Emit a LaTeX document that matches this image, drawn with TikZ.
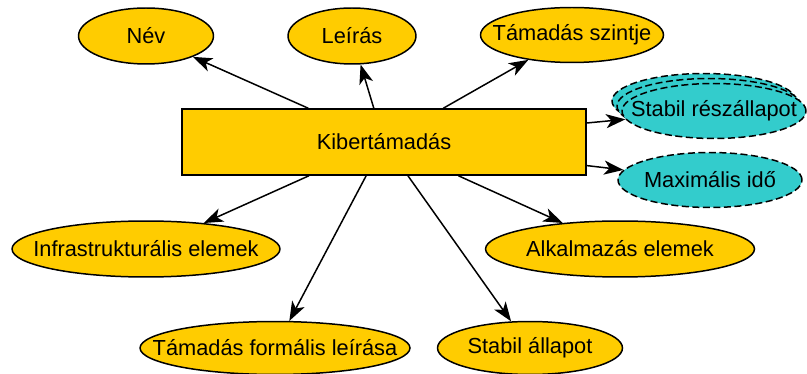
\documentclass[tikz,border=0pt]{standalone}
\usepackage{fontspec}
\setmainfont{Liberation Sans}
\usetikzlibrary{shapes.geometric,arrows.meta,shadows}
\definecolor{gold}{HTML}{FFCC00}
\definecolor{turq}{HTML}{33CCCC}
\newcommand{\lbl}[1]{\makebox[0pt]{#1}}
\tikzset{
  attr/.style={ellipse,draw,fill=gold,line width=0.85pt,inner sep=0pt,font=\fontsize{12.4}{14}\selectfont},
  state/.style={attr,fill=turq,dash pattern=on 4pt off 2pt},
  link/.style={-{Stealth[length=11pt,width=8pt,inset=3pt]},line width=0.85pt}
}
\begin{document}
\begin{tikzpicture}[x=0.02cm,y=-0.02cm]
\useasboundingbox (0,0) rectangle (807,374);
\node[draw,fill=gold,line width=0.85pt,minimum width=8.08cm,minimum height=1.32cm,font=\fontsize{12.4}{14}\selectfont] (kib) at (384,142) {Kibertámadás};
\node[attr,minimum width=2.7cm,minimum height=1.12cm] (nev) at (146,36) {\lbl{Név}};
\node[attr,minimum width=2.56cm,minimum height=1.12cm] (leiras) at (352,36) {\lbl{Leírás}};
\node[attr,minimum width=3.66cm,minimum height=1.1cm] (szint) at (572,35) {\lbl{Támadás szintje}};
\node[state,minimum width=3.68cm,minimum height=1.1cm,double copy shadow={shadow xshift=-0.1cm,shadow yshift=0.1cm}] (resz) at (714,111) {\lbl{Stabil részállapot}};
\node[state,minimum width=3.68cm,minimum height=1.1cm] (maxido) at (710,180) {\lbl{Maximális idő}};
\node[attr,minimum width=5.36cm,minimum height=1.12cm] (infra) at (146,249) {\lbl{Infrastrukturális elemek}};
\node[attr,minimum width=5.38cm,minimum height=1.12cm] (alk) at (620,249) {\lbl{Alkalmazás elemek}};
\node[attr,minimum width=5.4cm,minimum height=1.06cm] (formalis) at (275,348) {\lbl{Támadás formális leírása}};
\node[attr,minimum width=3.7cm,minimum height=1.06cm] (stabil) at (530,348) {\lbl{Stabil állapot}};
% kapcsolatok
\draw[link] (kib) -- (nev);
\draw[link] (kib) -- (leiras);
\draw[link] (kib) -- (szint);
\draw[link] (kib) -- (resz);
\draw[link] (kib) -- (maxido);
\draw[link] (kib) -- (infra);
\draw[link] (kib) -- (alk);
\draw[link] (kib) -- (formalis);
\draw[link] (kib) -- (stabil);
\end{tikzpicture}
\end{document}
